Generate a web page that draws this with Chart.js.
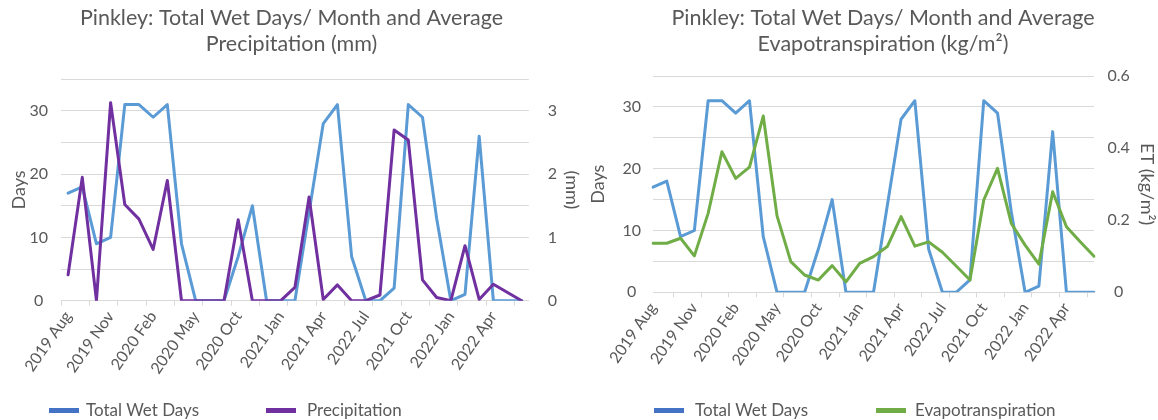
<!DOCTYPE html>
<html>
<head>
<meta charset="utf-8">
<title>Pinkley: Total Wet Days, Precipitation and Evapotranspiration</title>
<script src="https://cdn.jsdelivr.net/npm/chart.js@4.4.1/dist/chart.umd.min.js"></script>
<style>
  html, body { margin: 0; padding: 0; background: #ffffff; }
  #page { position: relative; width: 1158px; height: 420px; overflow: hidden; }
  canvas { position: absolute; top: 0; }
  #leftChart { left: 0; }
  #rightChart { left: 583px; }
  .swatch { position: absolute; top: 408px; width: 30px; height: 5px; }
  .legend-text { position: absolute; top: 400px; line-height: 20px; font-family: Lato; font-size: 17px; color: #595959; white-space: nowrap; }
</style>
</head>
<body>
<div id="page">
  <canvas id="leftChart" width="583" height="420"></canvas>
  <canvas id="rightChart" width="600" height="420"></canvas>
  <div id="legends"></div>
</div>
<script>
// Categorias (meses) - o eixo mostra um rótulo a cada 3
const months = [
  '2019 Aug', '2019 Sep', '2019 Oct', '2019 Nov', '2019 Dec', '2020 Jan',
  '2020 Feb', '2020 Mar', '2020 Apr', '2020 May', '2020 Jun', '2020 Sep',
  '2020 Oct', '2020 Nov', '2020 Dec', '2021 Jan', '2021 Feb', '2021 Mar',
  '2021 Apr', '2021 May', '2021 Jun', '2022 Jul', '2021 Aug', '2021 Sep',
  '2021 Oct', '2021 Nov', '2021 Dec', '2022 Jan', '2022 Feb', '2022 Mar',
  '2022 Apr', '2022 May', '2022 Jun'
];
const labelEvery = 3;

// Séries
const wetDays = [17, 18, 9, 10, 31, 31, 29, 31, 9, 0, 0, 0, 7, 15, 0, 0, 0,
  14, 28, 31, 7, 0, 0, 2, 31, 29, 13, 0, 1, 26, 0, 0, 0];
const precipitation = [0.41, 1.95, 0, 3.13, 1.52, 1.29, 0.81, 1.90, 0, 0, 0, 0,
  1.28, 0, 0, 0, 0.21, 1.64, 0.02, 0.25, 0, 0, 0.09, 2.70, 2.54, 0.33, 0.05, 0,
  0.87, 0.02, 0.26, 0.13, 0];
const evapotranspiration = [0.136, 0.136, 0.150, 0.101, 0.219, 0.390, 0.316,
  0.347, 0.489, 0.212, 0.085, 0.048, 0.034, 0.074, 0.029, 0.080, 0.099, 0.127,
  0.210, 0.128, 0.140, 0.111, 0.073, 0.034, 0.256, 0.344, 0.191, 0.131, 0.078,
  0.279, 0.182, 0.140, 0.100];

// Rótulos visíveis nos eixos Y
const daysTickLabels = [0, 10, 20, 30];
const precipTickLabels = [0, 1, 2, 3];
const etTickLabels = [0, 0.2, 0.4, 0.6];

const TEXT = '#595959';
const GRID = '#D9D9D9';
const BLUE = '#5B9BD5';
const PURPLE = '#7030A0';
const GREEN = '#70AD47';
const LEGEND_BLUE = '#4472C4';

Chart.defaults.font.family = 'Lato';
Chart.defaults.color = TEXT;

function labelIfListed(list) {
  return function (value) {
    const hit = list.find(v => Math.abs(v - value) < 1e-9);
    return hit === undefined ? '' : String(hit);
  };
}

function lineDataset(label, data, color, order) {
  return {
    label: label,
    data: data,
    borderColor: color,
    backgroundColor: color,
    borderWidth: 3,
    borderJoinStyle: 'round',
    borderCapStyle: 'round',
    pointRadius: 0,
    pointHoverRadius: 0,
    tension: 0,
    fill: false,
    order: order
  };
}

function xAxis(offset, height) {
  return {
    type: 'category',
    offset: offset,
    grid: {
      offset: true,
      drawOnChartArea: false,
      drawTicks: true,
      tickLength: 5,
      tickColor: ctx => (ctx.index % 2 === 0 ? GRID : 'rgba(0,0,0,0)')
    },
    border: { color: GRID, width: 1 },
    ticks: {
      autoSkip: false,
      minRotation: 55,
      maxRotation: 55,
      padding: 2,
      color: TEXT,
      font: { size: 16 },
      callback: function (value, index) {
        return index % labelEvery === 0 ? this.getLabelForValue(value) : '';
      }
    },
    afterFit: s => { s.height = height; }
  };
}

function daysAxis(width, pad, titlePad) {
  return {
    position: 'left',
    min: 0,
    max: 35,
    ticks: { stepSize: 5, crossAlign: 'center', padding: pad, color: TEXT,
      font: { size: 16 }, callback: labelIfListed(daysTickLabels) },
    grid: { color: GRID, lineWidth: 1, drawTicks: false },
    border: { display: false },
    title: { display: true, text: 'Days', color: TEXT, font: { size: 18 },
      padding: { top: titlePad, bottom: 0 } },
    afterFit: s => { s.width = width; }
  };
}

function rightAxis(max, step, list, title, width, pad, titlePad) {
  return {
    position: 'right',
    min: 0,
    max: max,
    ticks: { stepSize: step, crossAlign: 'center', padding: pad, color: TEXT,
      font: { size: 16 }, callback: labelIfListed(list) },
    grid: { drawOnChartArea: false, drawTicks: false },
    border: { display: false },
    title: { display: true, text: title, color: TEXT, font: { size: 18 },
      padding: { top: titlePad, bottom: 0 } },
    afterFit: s => { s.width = width; }
  };
}

function titleOptions(lines, bottom) {
  return {
    display: true,
    text: lines,
    color: TEXT,
    font: { size: 21.5, weight: 'normal', lineHeight: 26 / 21.5 },
    padding: { top: 5, bottom: bottom }
  };
}

// Gráfico da esquerda: dias úmidos e precipitação
const leftChart = new Chart(document.getElementById('leftChart'), {
  type: 'line',
  data: {
    labels: months,
    datasets: [
      lineDataset('Total Wet Days', wetDays, BLUE, 1),
      Object.assign(lineDataset('Precipitation', precipitation, PURPLE, 0), { yAxisID: 'yPrecip' })
    ]
  },
  options: {
    responsive: false,
    animation: false,
    events: [],
    layout: { padding: 0 },
    plugins: {
      title: titleOptions(['Pinkley: Total Wet Days/ Month and Average', 'Precipitation (mm)'], 22.3),
      legend: { display: false },
      tooltip: { enabled: false }
    },
    scales: {
      x: xAxis(true, 119.3),
      y: daysAxis(61, 13, 8),
      yPrecip: rightAxis(3.5, 1, precipTickLabels, '(mm)', 54.2, 19, 0)
    }
  }
});

// Gráfico da direita: dias úmidos e evapotranspiração
const rightChart = new Chart(document.getElementById('rightChart'), {
  type: 'line',
  data: {
    labels: months,
    datasets: [
      lineDataset('Total Wet Days', wetDays, BLUE, 1),
      Object.assign(lineDataset('Evapotranspiration', evapotranspiration, GREEN, 0), { yAxisID: 'yET' })
    ]
  },
  options: {
    responsive: false,
    animation: false,
    events: [],
    layout: { padding: 0 },
    plugins: {
      title: titleOptions(['Pinkley: Total Wet Days/ Month and Average', 'Evapotranspiration (kg/m\u00B2)'], 19),
      legend: { display: false },
      tooltip: { enabled: false }
    },
    scales: {
      x: xAxis(false, 127.7),
      y: daysAxis(70, 12, 4),
      yET: rightAxis(0.6, 0.2, etTickLabels, 'ET (kg/m\u00B2)', 89, 13.5, 25)
    }
  }
});

// Legendas em HTML, montadas a partir dos datasets
function buildLegend(chart, colors, slots) {
  const holder = document.getElementById('legends');
  chart.data.datasets.forEach((ds, i) => {
    const sw = document.createElement('div');
    sw.className = 'swatch';
    sw.style.left = slots[i].swatch + 'px';
    sw.style.background = colors[i];
    holder.appendChild(sw);
    const tx = document.createElement('div');
    tx.className = 'legend-text';
    tx.style.left = slots[i].text + 'px';
    tx.textContent = ds.label;
    holder.appendChild(tx);
  });
}

buildLegend(leftChart, [LEGEND_BLUE, PURPLE], [{ swatch: 49, text: 86 }, { swatch: 266, text: 307 }]);
buildLegend(rightChart, [LEGEND_BLUE, GREEN], [{ swatch: 654, text: 695 }, { swatch: 876, text: 915 }]);
</script>
</body>
</html>
